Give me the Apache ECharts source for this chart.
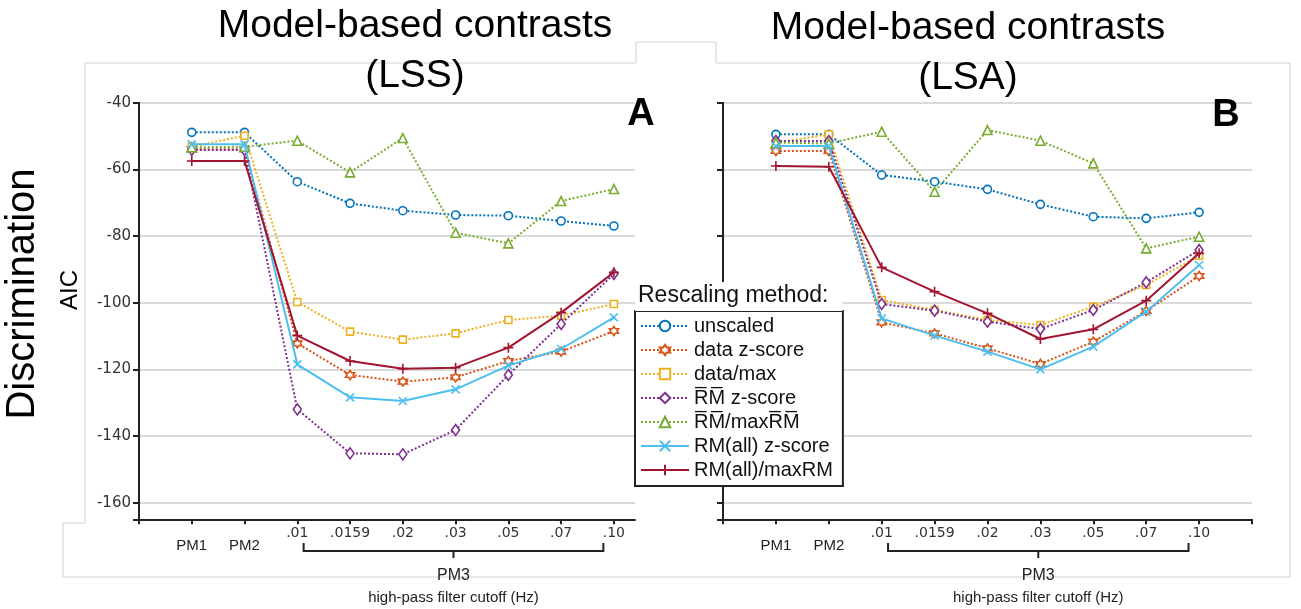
<!DOCTYPE html>
<html><head><meta charset="utf-8">
<script src="https://cdn.jsdelivr.net/npm/echarts@6/dist/echarts.min.js"></script>
<style>html,body{margin:0;padding:0;background:#fff}#c{width:1301px;height:609px}</style>
</head><body><div id="c"></div>
<script>
// ---------- data ----------
const categories = ['PM1','PM2','.01','.0159','.02','.03','.05','.07','.10'];
const methods = ['unscaled','data z-score','data/max','R\u0305M\u0305 z-score','R\u0305M\u0305/maxR\u0305M\u0305','RM(all) z-score','RM(all)/maxRM'];
const panelTitles = ['Model-based contrasts\n(LSS)','Model-based contrasts\n(LSA)'];
const panelLetters = ['A','B'];
const yAxisName = 'Discrimination';
const yAxisSub = 'AIC';
const pm3Label = 'PM3';
const xAxisName = 'high-pass filter cutoff (Hz)';
const legendTitle = 'Rescaling method:';

// LSS (panel A)
const lssUnscaled = [-48.9,-48.9,-63.7,-70.2,-72.4,-73.7,-73.9,-75.5,-77.0];
const lssDataZ    = [-54.0,-54.0,-112.2,-121.7,-123.7,-122.4,-117.5,-114.7,-108.5];
const lssDataMax  = [-53.2,-49.9,-99.8,-108.7,-111.1,-109.2,-105.2,-103.9,-100.4];
const lssRmZ      = [-54.2,-54.2,-132.0,-145.2,-145.5,-138.2,-121.7,-106.4,-91.4];
const lssRmMax    = [-53.4,-53.2,-51.4,-60.9,-50.6,-79.0,-82.2,-69.5,-65.9];
const lssAllZ     = [-52.5,-52.5,-118.5,-128.4,-129.5,-126.0,-118.9,-113.9,-104.4];
const lssAllMax   = [-57.5,-57.5,-109.9,-117.5,-119.8,-119.5,-113.5,-103.0,-90.9];

// LSA (panel B)
const lsaUnscaled = [-49.5,-49.5,-61.7,-63.7,-66.0,-70.5,-74.2,-74.7,-72.9];
const lsaDataZ    = [-54.5,-54.5,-105.9,-109.2,-113.7,-118.4,-111.7,-102.5,-92.0];
const lsaDataMax  = [-52.0,-49.5,-99.2,-102.2,-105.2,-106.7,-101.2,-94.7,-85.9];
const lsaRmZ      = [-51.5,-51.5,-100.4,-102.4,-105.7,-107.9,-102.2,-93.9,-84.2];
const lsaRmMax    = [-52.0,-52.2,-48.7,-66.7,-48.2,-51.4,-58.2,-83.7,-80.2];
const lsaAllZ     = [-53.0,-53.0,-104.7,-109.9,-114.7,-120.0,-113.2,-102.7,-88.7];
const lsaAllMax   = [-59.0,-59.2,-89.4,-96.7,-103.2,-110.9,-108.0,-99.4,-85.2];

const panels = [
  [lssUnscaled, lssDataZ, lssDataMax, lssRmZ, lssRmMax, lssAllZ, lssAllMax],
  [lsaUnscaled, lsaDataZ, lsaDataMax, lsaRmZ, lsaRmMax, lsaAllZ, lsaAllMax]
];

// ---------- styles ----------
const colors = ['#0072BD','#D95319','#EDB120','#7E2F8E','#77AC30','#4DBEEE','#A2142F'];
const lineTypes = ['dotted','dotted','dotted','dotted','dotted','solid','solid'];
const symbols = [
  'circle',
  'path://M0,-10L2.9,-5L8.66,-5L5.8,0L8.66,5L2.9,5L0,10L-2.9,5L-8.66,5L-5.8,0L-8.66,-5L-2.9,-5Z',
  'rect',
  'diamond',
  'triangle',
  'path://M0,0L10,10M10,0L0,10',
  'path://M5,0L5,10M0,5L10,5'
];
const symbolSizes = [8, 9, 7, [8,11], 9, 8, 10];
const hollow = [true,true,true,true,true,false,false];

const FONT = 'Liberation Sans, Arial, sans-serif';
const NUMFONT = 'DejaVu Sans, sans-serif';

const xMax = [9.4, 10];
const gridDefs = [
  {left:139, top:102.7, width:496, height:416.6},
  {left:723, top:102.7, width:529, height:416.6}
];

const xAxes = [], yAxes = [], series = [];
for (let p = 0; p < 2; p++) {
  const tickVals = [];
  for (let t = 0; t <= Math.floor(xMax[p]); t++) tickVals.push(t);
  xAxes.push({
    type:'value', gridIndex:p, min:0, max:xMax[p],
    axisLine:{show:true, onZero:false, lineStyle:{color:'#222', width:2}},
    axisTick:{show:true, customValues:tickVals, length:5, lineStyle:{color:'#222', width:2}},
    axisLabel:{
      customValues: categories.map((c,i)=>i+1),
      margin:7,
      formatter: v => { const c = categories[Math.round(v)-1] || ''; return c.startsWith('PM') ? '{pm|'+c+'}' : '{n|'+c+'}'; },
      rich:{
        pm:{fontFamily:FONT, fontSize:15, color:'#222', padding:[12,0,0,0]},
        n:{fontFamily:NUMFONT, fontSize:14, color:'#333'}
      }
    },
    splitLine:{show:false}
  });
  yAxes.push({
    type:'value', gridIndex:p, min:-165, max:-40, minInterval:20, maxInterval:20,
    axisLine:{show:true, onZero:false, lineStyle:{color:'#222', width:2}},
    axisTick:{show:true, length:6, lineStyle:{color:'#222', width:2}},
    axisLabel:{show:p===0, margin:8, fontFamily:NUMFONT, fontSize:15, color:'#333',
      formatter: v => (v % 20 === 0 ? String(v) : '')},
    splitLine:{show:true, lineStyle:{color:'#dadada', width:2}}
  });
  panels[p].forEach((vals, m) => {
    series.push({
      type:'line', name:methods[m], xAxisIndex:p, yAxisIndex:p,
      data: vals.map((v,i)=>[i+1, v]),
      symbol:symbols[m], symbolSize:symbolSizes[m], showAllSymbol:true,
      color:colors[m],
      lineStyle:{color:colors[m], width:2, type:lineTypes[m]},
      itemStyle:{color: hollow[m] ? '#fff' : colors[m], borderColor:colors[m], borderWidth:1.6},
      emphasis:{disabled:true},
      animation:false, z: 2 + m
    });
  });
}

const option = {
  animation:false,
  backgroundColor:'#fff',
  grid: gridDefs,
  xAxis: xAxes,
  yAxis: yAxes,
  title: [
    {text:panelTitles[0], left:415, top:1, textAlign:'center', padding:0,
     textStyle:{fontFamily:FONT, fontSize:39, fontWeight:'normal', color:'#000', lineHeight:50}},
    {text:panelTitles[1], left:968, top:3, textAlign:'center', padding:0,
     textStyle:{fontFamily:FONT, fontSize:39, fontWeight:'normal', color:'#000', lineHeight:50}},
    {text:panelLetters[0], left:641, top:96, textAlign:'center', padding:0,
     textStyle:{fontFamily:FONT, fontSize:38, fontWeight:'bold', color:'#000', lineHeight:38}},
    {text:panelLetters[1], left:1226, top:97, textAlign:'center', padding:0,
     textStyle:{fontFamily:FONT, fontSize:38, fontWeight:'bold', color:'#000', lineHeight:38}},
    {text:legendTitle, left:635, top:282, padding:[2,14,3,3], backgroundColor:'#fff',
     textStyle:{fontFamily:FONT, fontSize:23, fontWeight:'normal', color:'#111', lineHeight:24}}
  ],
  legend: {
    orient:'vertical', left:635, top:311,
    padding:[3,10,4,5],
    backgroundColor:'#fff', borderColor:'#222', borderWidth:2,
    itemWidth:48, itemHeight:13, itemGap:0,
    textStyle:{fontFamily:FONT, fontSize:20, color:'#111', lineHeight:24},
    data: methods,
    selectedMode:false
  },
  series: series
};

const chart = echarts.init(document.getElementById('c'), null, {renderer:'canvas'});
chart.setOption(option);

// ---------- decorations (bracket, names, frame) ----------
const bracketRange = [3.12, 8.8];
const g = [];
for (let p = 0; p < 2; p++) {
  const x1 = chart.convertToPixel({xAxisIndex:p}, bracketRange[0]);
  const x2 = chart.convertToPixel({xAxisIndex:p}, bracketRange[1]);
  const xm = (x1 + x2) / 2;
  g.push({type:'polyline', silent:true, shape:{points:[[x1,543],[x1,551],[x2,551],[x2,543]]},
          style:{stroke:'#222', lineWidth:2, fill:null}});
  g.push({type:'line', silent:true, shape:{x1:xm, y1:551, x2:xm, y2:558}, style:{stroke:'#222', lineWidth:2}});
  g.push({type:'text', silent:true, x:xm, y:576, style:{text:pm3Label, fontFamily:FONT, fontSize:16, fill:'#222', align:'center', verticalAlign:'middle'}});
  g.push({type:'text', silent:true, x:xm, y:598, style:{text:xAxisName, fontFamily:FONT, fontSize:15, fill:'#222', align:'center', verticalAlign:'middle'}});
}
g.push({type:'text', silent:true, x:23, y:294, rotation:Math.PI/2,
        style:{text:yAxisName, fontFamily:FONT, fontSize:40, fill:'#000', align:'center', verticalAlign:'middle'}});
g.push({type:'text', silent:true, x:70, y:290, rotation:Math.PI/2,
        style:{text:yAxisSub, fontFamily:FONT, fontSize:24, fill:'#000', align:'center', verticalAlign:'middle'}});
// faint frame of the composite figure
g.push({type:'polyline', silent:true, z:-1,
        shape:{points:[[63,577],[63,523],[85,523],[85,63],[636,63],[636,42],[716,42],[716,63],[1290,63],[1290,577],[63,577]]},
        style:{stroke:'#d0d0d0', lineWidth:1, fill:null}});
chart.setOption({graphic: g});
</script>
</body></html>
